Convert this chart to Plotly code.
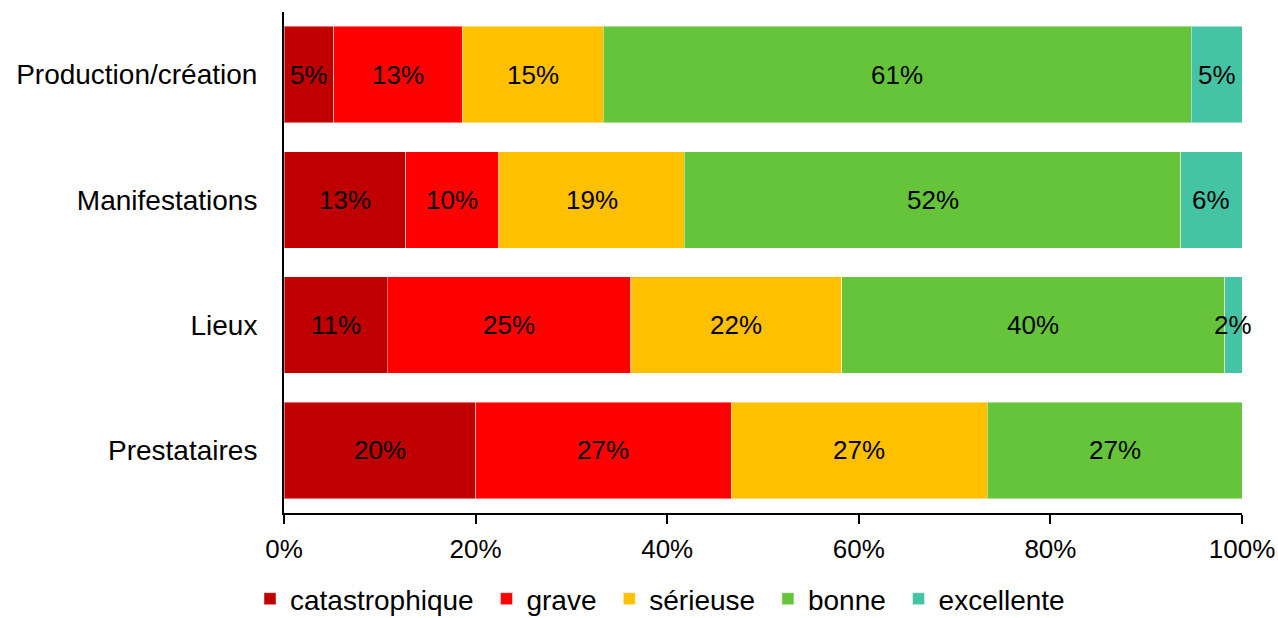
import plotly.graph_objects as go

categories = ["Production/création", "Manifestations", "Lieux", "Prestataires"]
series_names = ["catastrophique", "grave", "sérieuse", "bonne", "excellente"]
catastrophique = [5.2, 12.7, 10.8, 20.0]
grave = [13.4, 9.7, 25.4, 26.7]
serieuse = [14.7, 19.4, 22.0, 26.7]
bonne = [61.4, 51.8, 40.0, 26.6]
excellente = [5.3, 6.4, 1.8, 0.0]
colors = ["#C00000", "#FF0000", "#FFC000", "#66C43A", "#44C4A4"]
tick_vals = [0, 20, 40, 60, 80, 100]
tick_text = ["0%", "20%", "40%", "60%", "80%", "100%"]

series = [catastrophique, grave, serieuse, bonne, excellente]
FONT = "Liberation Sans, Arial, Helvetica, sans-serif"

fig = go.Figure()
for name, vals, col in zip(series_names, series, colors):
    fig.add_trace(go.Bar(
        y=categories, x=vals, name=name + "\u00a0", orientation="h",
        marker=dict(color=col, line=dict(color="rgba(255,255,255,0.45)", width=1)),
        hovertemplate=name + ": %{x}%<extra></extra>",
    ))

annotations = []
for i, cat in enumerate(categories):
    cum = 0.0
    for vals in series:
        v = vals[i]
        if v > 0:
            annotations.append(dict(
                x=cum + v / 2, y=cat, xref="x", yref="y",
                text=f"{round(v)}%", showarrow=False,
                font=dict(family=FONT, size=26, color="black"),
            ))
        cum += v

fig.update_layout(
    barmode="stack",
    bargap=0.23,
    width=1278, height=618,
    margin=dict(l=284, r=36, t=12, b=105, autoexpand=False),
    plot_bgcolor="white", paper_bgcolor="white",
    font=dict(family=FONT, size=28, color="black"),
    annotations=annotations,
    legend=dict(orientation="h", x=250 / 1278, xref="container", xanchor="left",
                y=1 - 574 / 618, yref="container", yanchor="top", font=dict(size=28),
                traceorder="normal", itemwidth=30, tracegroupgap=0,
                bgcolor="rgba(0,0,0,0)"),
    showlegend=True,
)
fig.update_xaxes(range=[0, 100], tickvals=tick_vals, ticktext=tick_text,
                 showgrid=False, zeroline=False, showline=True, linecolor="black",
                 linewidth=2, ticks="outside", ticklen=9, tickwidth=2,
                 tickcolor="black", ticklabelstandoff=3,
                 tickfont=dict(size=26), automargin=False)
fig.update_yaxes(autorange="reversed", showgrid=False, zeroline=False,
                 showline=True, linecolor="black", linewidth=2, ticks="",
                 ticklabelstandoff=19, tickfont=dict(size=28), automargin=False)

fig.write_html("out.html")
